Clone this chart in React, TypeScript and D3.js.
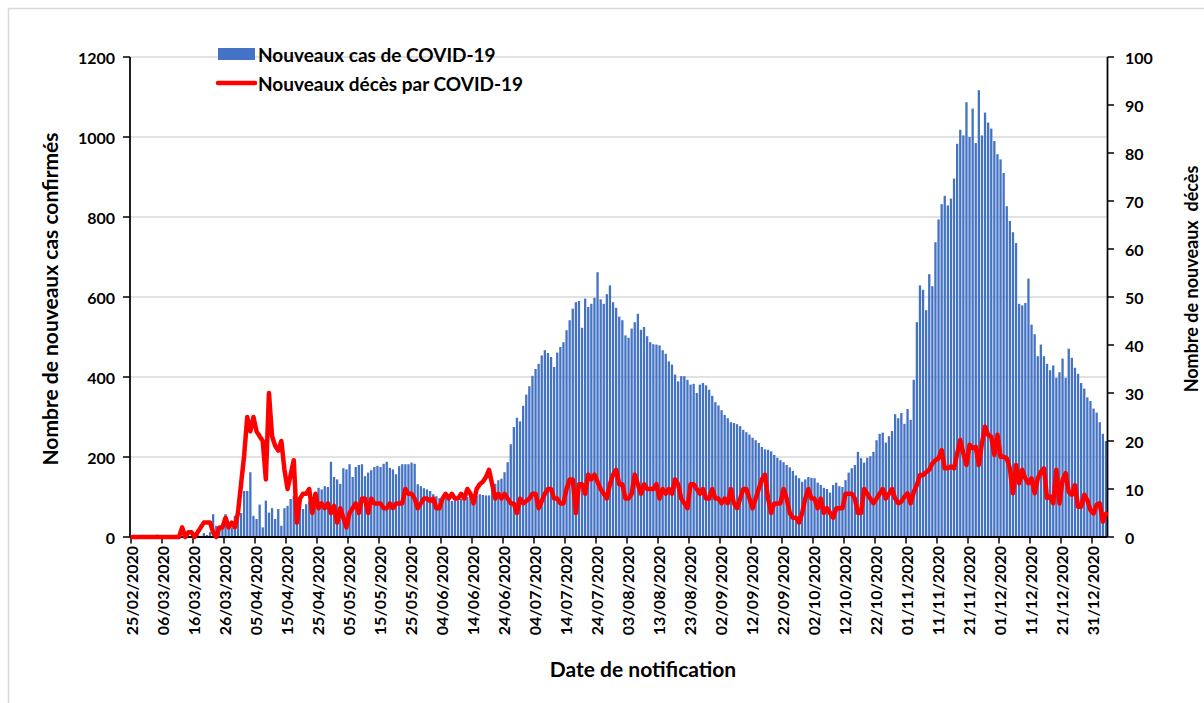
import React from "react";
import * as d3 from "d3";

// Daily values starting 25/02/2020 (one value per day)
const cases: number[] = [
  0, 0, 0, 0, 0, 0, 0, 0, 6, 0,
  0, 0, 0, 0, 0, 0, 0, 1, 0, 2,
  3, 7, 3, 10, 5, 12, 57, 28, 25, 32,
  57, 24, 24, 53, 45, 60, 115, 115, 162, 53,
  45, 81, 24, 91, 61, 72, 45, 70, 28, 72,
  78, 95, 103, 85, 90, 70, 82, 90, 100, 109,
  123, 119, 127, 125, 188, 150, 144, 133, 172, 169,
  182, 150, 175, 180, 182, 152, 161, 167, 175, 178,
  175, 183, 188, 173, 169, 157, 177, 182, 182, 182,
  186, 183, 132, 127, 122, 119, 115, 107, 102, 97,
  98, 97, 94, 90, 92, 90, 95, 96, 100, 98,
  100, 103, 107, 105, 104, 104, 121, 133, 142, 146,
  162, 187, 232, 275, 298, 289, 328, 356, 377, 403,
  420, 433, 454, 467, 460, 450, 425, 461, 475, 487,
  517, 542, 571, 587, 590, 523, 596, 575, 583, 598,
  662, 594, 583, 607, 629, 587, 573, 551, 542, 504,
  498, 521, 537, 558, 518, 525, 502, 487, 482, 481,
  479, 467, 458, 439, 431, 406, 389, 402, 402, 393,
  381, 383, 360, 381, 385, 379, 368, 353, 337, 329,
  317, 305, 297, 287, 285, 282, 277, 268, 262, 256,
  248, 242, 235, 225, 219, 218, 214, 205, 198, 192,
  187, 180, 174, 165, 154, 147, 138, 144, 150, 148,
  147, 136, 130, 123, 120, 111, 130, 136, 127, 125,
  142, 161, 172, 180, 213, 197, 186, 198, 202, 213,
  242, 258, 261, 236, 252, 265, 307, 297, 310, 283,
  320, 293, 393, 537, 629, 618, 567, 657, 627, 737,
  794, 832, 853, 829, 846, 896, 983, 1018, 1004, 1087,
  1000, 1071, 985, 1117, 1004, 1061, 1036, 1021, 990, 957,
  944, 910, 827, 790, 762, 735, 583, 579, 585, 646,
  531, 507, 452, 481, 452, 433, 417, 429, 398, 412,
  446, 398, 471, 448, 423, 408, 385, 371, 349, 340,
  321, 311, 287, 258, 240,
];

const deaths: number[] = [
  0, 0, 0, 0, 0, 0, 0, 0, 0, 0,
  0, 0, 0, 0, 0, 0, 2, 0, 1, 1,
  0, 1, 2, 3, 3, 3, 1, 0, 2, 2,
  4, 2, 3, 2, 5, 11, 17, 25, 22, 25,
  22, 21, 20, 12, 30, 21, 19, 18, 20, 14,
  10, 13, 16, 3, 8, 9, 9, 10, 5, 9,
  6, 7, 6, 7, 5, 6.5, 3, 6, 4, 2,
  5, 6, 7, 5, 8, 8, 5, 8, 7, 7,
  7, 6, 6, 7, 6, 7, 7, 7, 10, 9,
  9, 8, 6, 7, 8, 8, 7.5, 8, 6, 6,
  8, 9, 8, 9, 8, 8, 9, 8, 10, 9,
  7, 10, 11, 11.5, 12.5, 14, 11, 8, 9, 8,
  9, 8, 7, 7, 5, 8, 7, 7.5, 8, 9,
  9, 6, 7.5, 9, 10, 10, 8, 8, 7, 7,
  10, 12, 12, 5, 11, 11, 9, 13, 12, 13,
  11.5, 10, 9, 8, 11, 13, 14, 11, 11, 8,
  8, 9, 13, 11, 9, 11, 10, 10, 10, 11,
  8, 10, 9, 10, 9, 12, 11, 8, 7, 6,
  11, 11, 10, 9, 10, 8, 8, 10, 8, 8,
  7, 8, 7, 10, 7, 6, 8, 10, 10, 8,
  6, 8, 10, 12, 13, 8, 5, 7, 7, 7,
  10, 8, 5, 4, 4, 3, 5, 8, 10, 8,
  8, 6, 8, 5, 6, 5, 4, 6, 6, 6,
  9, 9, 9, 8, 5, 5, 10, 9, 8, 7,
  8, 9, 10, 8, 9, 10, 8, 7, 7.4, 8.4,
  9.1, 7, 9.4, 10.8, 12.9, 12.9, 13.5, 14, 15.3, 16,
  16.4, 18.1, 14.3, 14.3, 14.7, 14.3, 17.4, 20.2, 17.4, 15,
  19.2, 18.5, 18.8, 15, 19.5, 23, 21.3, 20.9, 17.1, 21.3,
  16.7, 16.7, 16.4, 14.3, 9.1, 15, 11.2, 14, 12.2, 11.2,
  12.2, 9.1, 12.2, 13.6, 14.3, 8.1, 8.4, 7, 14, 7,
  11.9, 13.3, 9.4, 8.8, 10.8, 6.3, 6.3, 8.8, 7.7, 5.6,
  4.9, 6.7, 7, 3.2, 4.9,
];

// x tick labels every 10 days
const xTickLabels: string[] = [
  "25/02/2020", "06/03/2020", "16/03/2020", "26/03/2020", "05/04/2020",
  "15/04/2020", "25/04/2020", "05/05/2020", "15/05/2020", "25/05/2020",
  "04/06/2020", "14/06/2020", "24/06/2020", "04/07/2020", "14/07/2020",
  "24/07/2020", "03/08/2020", "13/08/2020", "23/08/2020", "02/09/2020",
  "12/09/2020", "22/09/2020", "02/10/2020", "12/10/2020", "22/10/2020",
  "01/11/2020", "11/11/2020", "21/11/2020", "01/12/2020", "11/12/2020",
  "21/12/2020", "31/12/2020",
];
const xTickStep = 10;
const leftTicks: number[] = [0, 200, 400, 600, 800, 1000, 1200];
const rightTicks: number[] = [0, 10, 20, 30, 40, 50, 60, 70, 80, 90, 100];

const legendCases = "Nouveaux cas de COVID-19";
const legendDeaths = "Nouveaux décès par COVID-19";
const leftTitle = "Nombre de nouveaux cas confirmés";
const rightTitle = "Nombre de nouveaux  décès";
const bottomTitle = "Date de notification";

const FONT = "Lato, 'Open Sans', 'Liberation Sans', sans-serif";

export default function App() {
  const W = 1204;
  const H = 703;
  const left = 130;
  const right = 1107.5;
  const top = 57;
  const bottom = 537;
  const n = cases.length;
  const days = d3.range(n);

  const x = d3
    .scaleBand<number>()
    .domain(days)
    .range([131, right])
    .paddingInner(0.26)
    .paddingOuter(0.13);
  const slotStart = (i: number) => (x(i) as number) - x.step() * 0.13;

  const yL = d3.scaleLinear().domain([0, 1200]).range([bottom, top]);
  const yR = d3.scaleLinear().domain([0, 100]).range([bottom, top]);

  const line = d3
    .line<number>()
    .x((d, i) => (x(i) as number) + x.bandwidth() / 2)
    .y((d) => yR(d));

  return (
    <svg
      width={W}
      height={H}
      style={{ position: "absolute", left: 0, top: 0, background: "#fff" }}
      fontFamily={FONT}
    >
      <rect x={0} y={0} width={W} height={H} fill="#fff" />
      <rect x={8.5} y={8.5} width={W + 50} height={H + 50} fill="none" stroke="#d9d9d9" strokeWidth={1.5} />

      {/* gridlines */}
      {leftTicks
        .filter((t) => t > 0)
        .map((t) => (
          <line key={"g" + t} x1={left} x2={right} y1={yL(t)} y2={yL(t)} stroke="#d9d9d9" strokeWidth={1.5} />
        ))}

      {/* bars */}
      {cases.map((v, i) => (
        <rect
          key={"b" + i}
          x={x(i)}
          y={yL(v)}
          width={x.bandwidth()}
          height={bottom - yL(v)}
          fill="#4472C4"
        />
      ))}

      {/* axes */}
      <line x1={left} x2={left} y1={top} y2={bottom} stroke="#000" strokeWidth={1.75} />
      <line x1={right} x2={right} y1={top} y2={bottom} stroke="#000" strokeWidth={1.75} />
      <line x1={left} x2={right} y1={bottom} y2={bottom} stroke="#000" strokeWidth={2} />

      {leftTicks.map((t) => (
        <g key={"lt" + t}>
          <line x1={123} x2={left} y1={yL(t)} y2={yL(t)} stroke="#000" strokeWidth={1.5} />
          <text x={115} y={yL(t)} textAnchor="end" dominantBaseline="central" fontSize={16} fontWeight="bold" fill="#000">
            {t}
          </text>
        </g>
      ))}
      {rightTicks.map((t) => (
        <g key={"rt" + t}>
          <line x1={right} x2={right + 6.5} y1={yR(t)} y2={yR(t)} stroke="#000" strokeWidth={1.5} />
          <text x={1125} y={yR(t)} textAnchor="start" dominantBaseline="central" fontSize={16} fontWeight="bold" fill="#000">
            {t}
          </text>
        </g>
      ))}
      {xTickLabels.map((lab, k) => {
        const xi = slotStart(k * xTickStep);
        return (
          <g key={"xt" + k}>
            <line x1={xi} x2={xi} y1={bottom} y2={bottom + 6.5} stroke="#000" strokeWidth={1.5} />
            <text
              transform={`translate(${xi},${bottom + 9}) rotate(-90)`}
              textAnchor="end"
              dominantBaseline="central"
              fontSize={16}
              fontWeight="bold"
              fill="#000"
            >
              {lab}
            </text>
          </g>
        );
      })}

      {/* deaths line */}
      <path
        d={line(deaths) || ""}
        fill="none"
        stroke="#FF0000"
        strokeWidth={4.5}
        strokeLinejoin="round"
        strokeLinecap="round"
      />

      {/* titles */}
      <text transform="translate(49,299) rotate(-90)" textAnchor="middle" dominantBaseline="central" fontSize={21} fontWeight="bold" fill="#000">
        {leftTitle}
      </text>
      <text transform="translate(1191,279) rotate(-90)" textAnchor="middle" dominantBaseline="central" fontSize={18} fontWeight="bold" fill="#000" style={{ whiteSpace: "pre" }}>
        {rightTitle}
      </text>
      <text x={643} y={668} textAnchor="middle" dominantBaseline="central" fontSize={21} fontWeight="bold" fill="#000">
        {bottomTitle}
      </text>

      {/* legend */}
      <rect x={218} y={48} width={37} height={12} fill="#4472C4" />
      <text x={258} y={54} dominantBaseline="central" fontSize={19} fontWeight="bold" fill="#000">
        {legendCases}
      </text>
      <line x1={218} x2={255} y1={83} y2={83} stroke="#FF0000" strokeWidth={4.5} strokeLinecap="round" />
      <text x={258} y={83} dominantBaseline="central" fontSize={19} fontWeight="bold" fill="#000">
        {legendDeaths}
      </text>
    </svg>
  );
}
